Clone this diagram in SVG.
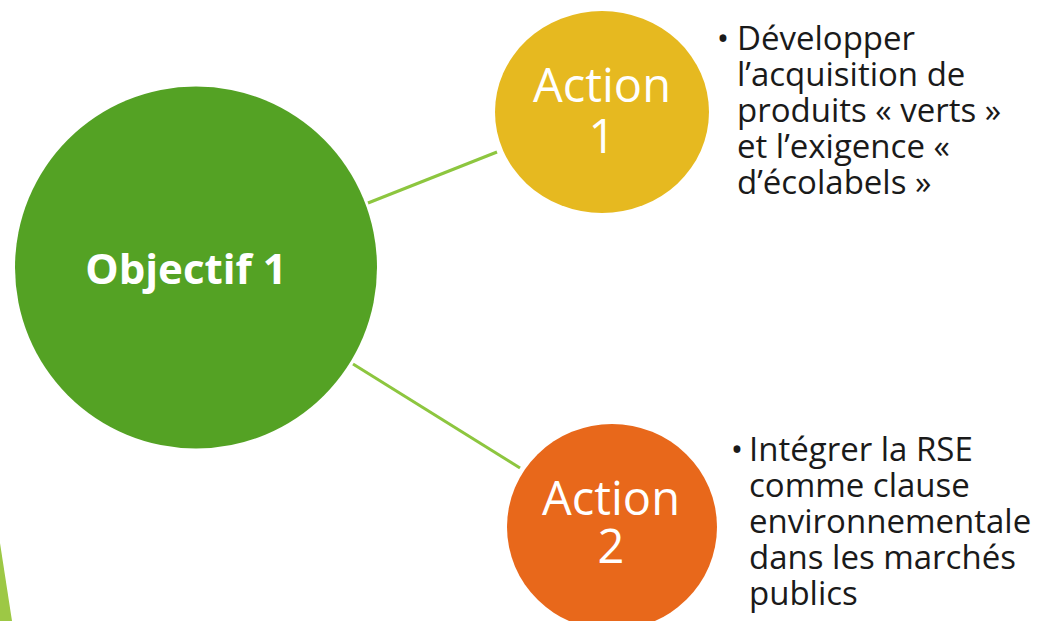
<svg xmlns="http://www.w3.org/2000/svg" width="1038" height="621" viewBox="0 0 1038 621">
<style>
.lbl{font-family:"Open Sans","Noto Sans","Liberation Sans",sans-serif;fill:#ffffff;text-anchor:middle}
.act{font-size:47px}
.obj{font-size:42px;font-weight:bold}
.desc{font-family:"Open Sans","Noto Sans","Liberation Sans",sans-serif;font-size:33px;fill:#1a1a1a}
.conn{stroke:#8DC63F;stroke-width:3;fill:none}
</style>
<rect width="1038" height="621" fill="#ffffff"/>
<polygon points="0,543 12,621 0,621" fill="#9DC845"/>
<g id="connectors">
<line class="conn" x1="368" y1="203" x2="497" y2="152"/>
<line class="conn" x1="353" y1="364" x2="520" y2="468"/>
</g>
<g id="objectif1">
<circle cx="196" cy="267.5" r="181" fill="#54A224"/>
<text class="lbl obj" x="186" y="284">Objectif 1</text>
</g>
<g id="action1">
<ellipse cx="602" cy="112" rx="107" ry="101" fill="#E6B920"/>
<text class="lbl act" x="602" y="102">Action</text>
<text class="lbl act" x="602" y="153">1</text>
</g>
<g id="action2">
<ellipse cx="612" cy="527" rx="105" ry="103" fill="#E8681B"/>
<text class="lbl act" x="611" y="515">Action</text>
<text class="lbl act" x="611" y="563">2</text>
</g>
<g id="desc1">
<text class="desc" x="723" y="50" text-anchor="middle">•</text>
<text class="desc" x="737" y="50">Développer</text>
<text class="desc" x="737" y="86">l’acquisition de</text>
<text class="desc" x="737" y="122">produits « verts »</text>
<text class="desc" x="737" y="158">et l’exigence «</text>
<text class="desc" x="737" y="194">d’écolabels »</text>
</g>
<g id="desc2">
<text class="desc" x="737" y="461" text-anchor="middle">•</text>
<text class="desc" x="749" y="461">Intégrer la RSE</text>
<text class="desc" x="749" y="497">comme clause</text>
<text class="desc" x="749" y="533">environnementale</text>
<text class="desc" x="749" y="569">dans les marchés</text>
<text class="desc" x="749" y="605">publics</text>
</g>
</svg>
